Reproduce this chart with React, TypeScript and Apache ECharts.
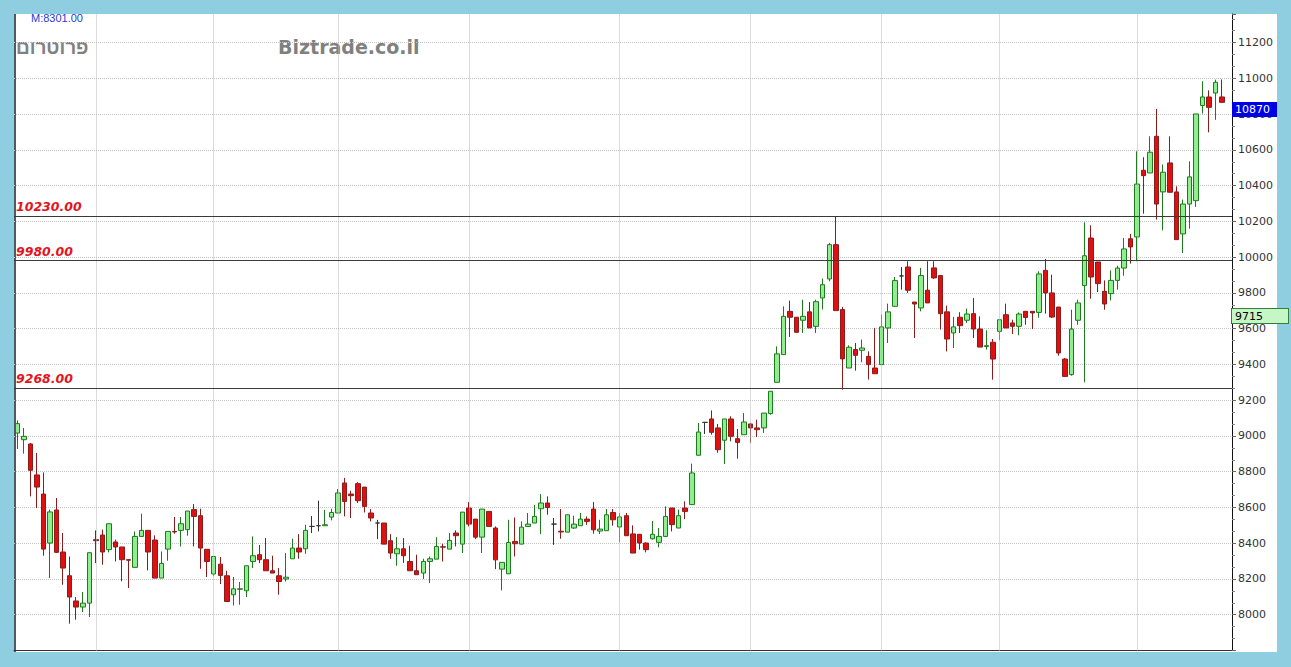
import React, { useEffect, useRef } from "react";
import * as echarts from "echarts";

// ---- Data ----
const opens = [
  9016, 8979, 8955, 8782, 8675, 8401, 8586, 8351, 8218, 8077, 8043, 8065, 8420, 8446, 8364, 8407, 8379, 8308, 8265, 8438,
  8472, 8418, 8205, 8367, 8466, 8472, 8476, 8588, 8554, 8366, 8228, 8283, 8218, 8112, 8143, 8134, 8298, 8336, 8308, 8246,
  8218, 8200, 8313, 8373, 8369, 8494, 8498, 8498, 8546, 8569, 8737, 8675, 8733, 8714, 8569, 8513, 8513, 8414, 8341, 8369,
  8298, 8246, 8233, 8298, 8311, 8380, 8367, 8457, 8395, 8597, 8535, 8434, 8578, 8485, 8255, 8229, 8410, 8395, 8494, 8513,
  8593, 8625, 8507, 8467, 8462, 8485, 8498, 8535, 8591, 8468, 8470, 8572, 8491, 8554, 8452, 8450, 8401, 8425, 8405, 8438,
  8597, 8485, 8597, 8616, 8892, 9076, 9095, 9045, 8976, 9095, 8985, 9007, 9067, 9045, 9045, 9125, 9300, 9455, 9697, 9664,
  9647, 9694, 9613, 9772, 9878, 10070, 9707, 9380, 9483, 9479, 9445, 9380, 9399, 9604, 9725, 9895, 9945, 9749, 9716, 9815,
  9940, 9897, 9694, 9576, 9664, 9647, 9684, 9598, 9500, 9524, 9585, 9678, 9632, 9613, 9697, 9697, 9691, 9926, 9800, 9721,
  9430, 9343, 9647, 9841, 10107, 9973, 9809, 9796, 9870, 9939, 10103, 10113, 10486, 10471, 10676, 10365, 10527, 10365, 10130, 10297,
  10316, 10848, 10896, 10918, 10896,
];
const closes = [
  9069, 8998, 8808, 8714, 8367, 8575, 8349, 8261, 8099, 8043, 8065, 8347, 8414, 8351, 8509, 8379, 8308, 8305, 8438, 8472,
  8351, 8205, 8287, 8466, 8463, 8509, 8580, 8550, 8373, 8298, 8326, 8220, 8074, 8145, 8145, 8274, 8330, 8308, 8246, 8233,
  8186, 8210, 8373, 8351, 8472, 8494, 8498, 8503, 8572, 8681, 8634, 8666, 8638, 8606, 8541, 8513, 8395, 8345, 8369, 8330,
  8246, 8224, 8298, 8313, 8382, 8378, 8416, 8442, 8574, 8507, 8434, 8591, 8494, 8307, 8293, 8404, 8397, 8490, 8507, 8550,
  8625, 8600, 8507, 8463, 8559, 8507, 8535, 8522, 8475, 8479, 8559, 8531, 8547, 8442, 8345, 8401, 8364, 8450, 8438, 8550,
  8504, 8554, 8578, 8793, 9022, 9076, 9020, 8923, 9095, 8998, 8964, 9078, 9045, 9035, 9128, 9250, 9459, 9669, 9664, 9580,
  9669, 9604, 9751, 9846, 10070, 9701, 9431, 9496, 9451, 9492, 9399, 9348, 9610, 9694, 9869, 9895, 9815, 9738, 9897, 9744,
  9884, 9684, 9542, 9610, 9617, 9682, 9598, 9497, 9505, 9430, 9650, 9604, 9613, 9682, 9663, 9688, 9906, 9800, 9665, 9464,
  9333, 9598, 9744, 10008, 9889, 9852, 9738, 9870, 9939, 10046, 10057, 10409, 10456, 10587, 10297, 10475, 10363, 10098, 10297, 10449,
  10801, 10896, 10838, 10978, 10866,
];
const lows = [
  8927, 8901, 8662, 8597, 8330, 8205, 8345, 8168, 7950, 7972, 8015, 7987, 8289, 8280, 8349, 8298, 8187, 8149, 8265, 8435,
  8248, 8205, 8205, 8302, 8453, 8382, 8442, 8382, 8257, 8211, 8215, 8172, 8074, 8052, 8056, 8099, 8261, 8289, 8246, 8233,
  8112, 8186, 8313, 8313, 8341, 8457, 8466, 8498, 8528, 8569, 8550, 8541, 8625, 8572, 8522, 8423, 8395, 8313, 8274, 8289,
  8246, 8224, 8199, 8177, 8311, 8298, 8367, 8382, 8345, 8494, 8423, 8345, 8494, 8255, 8136, 8229, 8326, 8395, 8494, 8513,
  8451, 8559, 8391, 8425, 8462, 8480, 8498, 8503, 8453, 8451, 8470, 8498, 8405, 8442, 8345, 8364, 8349, 8420, 8377, 8435,
  8466, 8485, 8535, 8616, 8892, 9011, 9007, 8906, 8843, 8970, 8873, 9007, 8961, 8994, 9017, 9119, 9300, 9455, 9554, 9576,
  9576, 9604, 9576, 9707, 9865, 9701, 9259, 9380, 9365, 9412, 9315, 9348, 9399, 9520, 9725, 9818, 9800, 9548, 9697, 9744,
  9878, 9595, 9473, 9492, 9576, 9632, 9548, 9497, 9483, 9315, 9535, 9604, 9570, 9563, 9622, 9598, 9661, 9684, 9660, 9449,
  9333, 9337, 9622, 9300, 9768, 9805, 9706, 9758, 9818, 9896, 9964, 9977, 10243, 10471, 10210, 10150, 10363, 10098, 10023, 10159,
  10281, 10803, 10698, 10768, 10862,
];
const highs = [
  9087, 9045, 8960, 8905, 8796, 8588, 8653, 8457, 8326, 8099, 8127, 8347, 8472, 8476, 8509, 8420, 8379, 8310, 8466, 8565,
  8472, 8444, 8354, 8466, 8547, 8547, 8580, 8619, 8593, 8366, 8326, 8323, 8246, 8211, 8183, 8274, 8438, 8390, 8429, 8330,
  8261, 8345, 8425, 8451, 8503, 8552, 8638, 8587, 8593, 8703, 8765, 8694, 8742, 8714, 8591, 8531, 8513, 8451, 8434, 8429,
  8386, 8336, 8313, 8326, 8434, 8397, 8457, 8472, 8574, 8630, 8535, 8591, 8578, 8494, 8293, 8531, 8544, 8522, 8569, 8615,
  8675, 8662, 8541, 8591, 8559, 8554, 8569, 8550, 8630, 8531, 8591, 8591, 8569, 8569, 8500, 8450, 8405, 8524, 8485, 8606,
  8597, 8588, 8634, 8845, 9073, 9076, 9143, 9067, 9095, 9110, 9039, 9128, 9073, 9091, 9128, 9250, 9501, 9725, 9757, 9664,
  9762, 9749, 9762, 9880, 10080, 10225, 9722, 9507, 9520, 9539, 9473, 9604, 9679, 9740, 9889, 9945, 9977, 9749, 9940, 9977,
  9977, 9897, 9729, 9666, 9692, 9712, 9772, 9669, 9591, 9542, 9650, 9740, 9650, 9691, 9697, 9697, 9921, 9990, 9902, 9721,
  9436, 9706, 9762, 10195, 10178, 9973, 9870, 9926, 9952, 10107, 10130, 10592, 10559, 10676, 10829, 10518, 10676, 10396, 10322, 10536,
  10801, 10984, 10933, 10993, 10994,
];
// one extra, empty trading slot at the right edge
const categories = Array.from({ length: opens.length + 1 }, (_, i) => String(i + 1));
// indices of the dotted period separators
const periodStarts = [12, 30, 49, 69, 92, 112, 132, 150, 171];
// horizontal support / resistance levels
const levels = [10230, 9980, 9268];
const lastPrice = 10870;
const secondaryPrice = 9715;
const yTickMin = 7800;
const yTickMax = 11360;
const yInterval = 200;

export default function App() {
  const ref = useRef<HTMLDivElement>(null);

  useEffect(() => {
    if (!ref.current) return;
    const chart = echarts.init(ref.current, undefined, { renderer: "svg" });
    const candles = opens.map((o, i) => [o, closes[i], lows[i], highs[i]]);

    const markData: any[] = [];
    periodStarts.forEach((idx) => {
      markData.push({
        xAxis: categories[idx],
        lineStyle: { type: "dotted", color: "#b8b8b8", width: 1 },
        label: { show: false },
      });
    });
    levels.forEach((v) => {
      markData.push({
        yAxis: v,
        lineStyle: { type: "solid", color: "#3a3a3a", width: 1 },
        label: {
          show: true,
          position: "insideStartTop",
          formatter: v.toFixed(2),
          color: "#e5141c",
          fontStyle: "italic",
          fontWeight: "bold",
          fontSize: 12.5,
          fontFamily: "DejaVu Sans",
          distance: [2, 3],
        },
      });
    });

    chart.setOption({
      animation: false,
      backgroundColor: "transparent",
      grid: { left: 14, right: 59, top: 14, height: 636.5 },
      xAxis: {
        type: "category",
        data: categories,
        boundaryGap: true,
        axisLine: { show: true, lineStyle: { color: "#333", width: 1 } },
        axisTick: { show: false },
        axisLabel: { show: false },
        splitLine: { show: false },
      },
      yAxis: {
        type: "value",
        position: "right",
        min: yTickMin,
        max: yTickMax,
        interval: yInterval,
        axisLine: { show: true, onZero: false, lineStyle: { color: "#111", width: 1 } },
        axisTick: { show: true, length: 4, lineStyle: { color: "#666" } },
        minorTick: { show: true, splitNumber: 3, length: 3, lineStyle: { color: "#888" } },
        axisLabel: {
          show: true,
          color: "#333",
          fontSize: 11,
          fontFamily: "DejaVu Sans",
          margin: 6,
          showMinLabel: false,
          showMaxLabel: false,
          formatter: (v: number) => String(v),
        },
        splitLine: {
          show: true,
          showMinLine: false,
          showMaxLine: false,
          lineStyle: { type: "dotted", color: "#c4c4c4", width: 1 },
        },
      },
      graphic: [
        {
          type: "text",
          left: 31,
          top: 12,
          style: { text: "M:8301.00", fill: "#2b3bd0", fontSize: 11, fontFamily: "Liberation Sans" },
        },
        {
          type: "text",
          left: 16,
          top: 38,
          style: { text: "פרוטרום", fill: "#808080", fontSize: 19, fontWeight: "bold", fontFamily: "Liberation Sans" },
        },
        {
          type: "text",
          left: 278,
          top: 37,
          style: { text: "Biztrade.co.il", fill: "#808080", fontSize: 19, fontWeight: "bold", fontFamily: "DejaVu Sans" },
        },
      ],
      series: [
        {
          type: "candlestick",
          data: candles,
          barWidth: 5,
          itemStyle: {
            color: "#90ee90",
            color0: "#e01010",
            borderColor: "#1d7a1d",
            borderColor0: "#8a1c1c",
            borderColorDoji: "#333333",
            borderWidth: 1,
          },
          markLine: {
            silent: true,
            symbol: ["none", "none"],
            animation: false,
            data: markData,
          },
        },
        {
          // price tags on the right axis
          type: "line",
          data: [],
          silent: true,
          markLine: {
            silent: true,
            symbol: ["none", "none"],
            animation: false,
            lineStyle: { color: "rgba(0,0,0,0)", width: 0 },
            data: [
              {
                yAxis: lastPrice,
                label: {
                  show: true,
                  position: "end",
                  distance: 0,
                  offset: [0, 8],
                  formatter: String(lastPrice),
                  color: "#ffffff",
                  backgroundColor: "#0000e6",
                  fontSize: 11,
                  fontFamily: "DejaVu Sans",
                  lineHeight: 11,
                  padding: [2, 3, 2, 3],
                  width: 39,
                  align: "left",
                },
              },
              {
                yAxis: secondaryPrice,
                label: {
                  show: true,
                  position: "end",
                  distance: 0,
                  offset: [0, 8],
                  formatter: String(secondaryPrice),
                  color: "#000000",
                  backgroundColor: "#c6f5c6",
                  borderColor: "#2f7f3f",
                  borderWidth: 1,
                  fontSize: 11,
                  fontFamily: "DejaVu Sans",
                  lineHeight: 11,
                  padding: [2, 3, 1, 3],
                  width: 50,
                  align: "left",
                },
              },
            ],
          },
        },
      ],
    });
    return () => chart.dispose();
  }, []);

  return (
    <div style={{ position: "fixed", left: 0, top: 0, width: 1291, height: 667, background: "#8fcde0", overflow: "hidden" }}>
      <div style={{ position: "absolute", left: 16, top: 14, width: 1261, height: 638, background: "#ffffff" }} />
      <div style={{ position: "absolute", left: 14, top: 14, width: 2, height: 638, background: "#4d5b60" }} />
      <div ref={ref} style={{ position: "absolute", left: 0, top: 0, width: 1291, height: 667 }} />
    </div>
  );
}
